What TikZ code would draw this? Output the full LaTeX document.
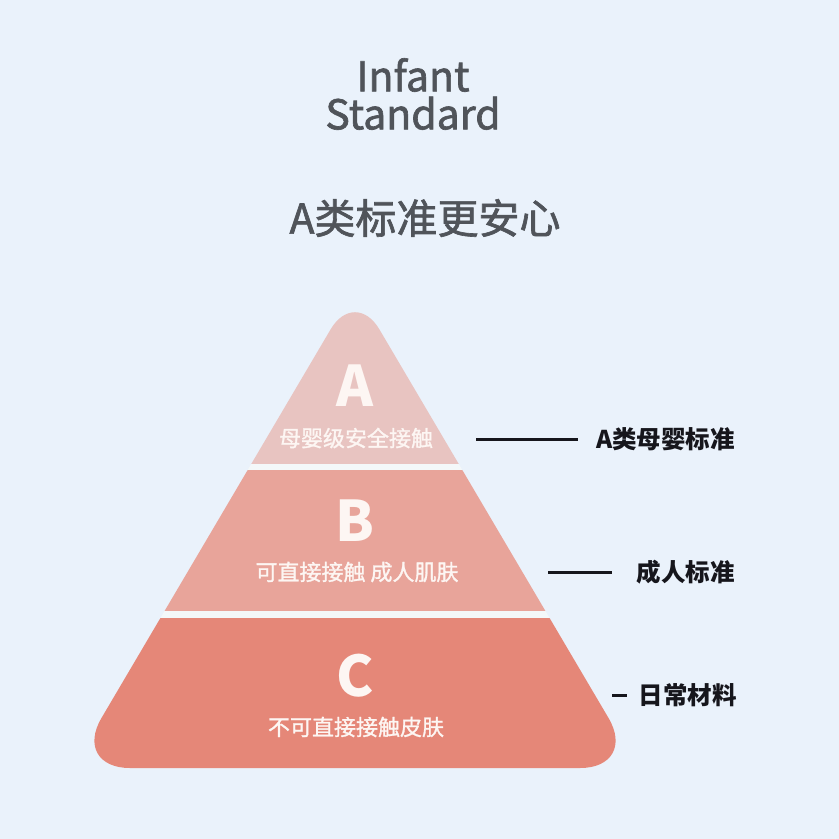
\documentclass[tikz,border=0pt]{standalone}
\usepackage{fontspec}
\setmainfont{Noto Sans CJK SC}
\newfontfamily\medA{Noto Sans CJK SC}[FakeBold=1.6]
\newfontfamily\medB{Noto Sans CJK SC}[FakeBold=1.3]
\definecolor{bg}{RGB}{234,242,251}
\definecolor{cA}{RGB}{232,196,193}
\definecolor{cB}{RGB}{232,164,154}
\definecolor{cC}{RGB}{229,135,120}
\definecolor{gapc}{RGB}{244,248,249}
\definecolor{tgray}{RGB}{80,84,90}
\definecolor{tblack}{RGB}{22,22,28}
\definecolor{twhite}{RGB}{253,246,243}
\tikzset{
  title/.style={text=tgray, inner sep=0pt, anchor=center, font=\fontsize{41}{38}\medA},
  letter/.style={text=twhite, inner sep=0pt, anchor=center, font=\fontsize{56}{56}\selectfont\bfseries},
  sub/.style={text=twhite, inner sep=0pt, anchor=center, font=\fontsize{22}{22}\medB},
  lab/.style={text=tblack, inner sep=0pt, anchor=east, font=\fontsize{24.5}{24.5}\selectfont\bfseries},
  guide/.style={draw=tblack, line width=3pt}
}
\begin{document}
\begin{tikzpicture}[x=1pt,y=-1pt]
\fill[bg] (0,0) rectangle (839,839);
\useasboundingbox (0,0) rectangle (839,839);

\node[title, align=center] (t1) at (413,94) {Infant\\Standard};
\node[title] (t3) at (425,218) {A类标准更安心};

\begin{scope}
  \clip (355,768) [rounded corners=58pt] -- (72,768) [rounded corners=48pt] -- (355,288) [rounded corners=58pt] -- (638,768) [sharp corners] -- cycle;
  \fill[cA] (0,250) rectangle (839,464);
  \fill[gapc] (0,464) rectangle (839,470);
  \fill[cB] (0,470) rectangle (839,611);
  \fill[gapc] (0,611) rectangle (839,618);
  \fill[cC] (0,618) rectangle (839,800);
\end{scope}

\node[letter] (lA) at (355,386) {A};
\node[sub] (sA) at (356,438) {母婴级安全接触};
\node[letter] (lB) at (355,521) {B};
\node[sub] (sB) at (357,572) {可直接接触 成人肌肤};
\node[letter] (lC) at (355,676) {C};
\node[sub] (sC) at (356,727) {不可直接接触皮肤};

\node[lab] (rA) at (735,439) {A类母婴标准};
\node[lab] (rB) at (735,572) {成人标准};
\node[lab] (rC) at (737,695) {日常材料};

\draw[guide] ([xshift=-18pt]rA.west) -- ++(-102,0);
\draw[guide] ([xshift=-25pt]rB.west) -- ++(-64,0);
\draw[guide] ([xshift=-12pt]rC.west) -- ++(-15,0);
\end{tikzpicture}
\end{document}
